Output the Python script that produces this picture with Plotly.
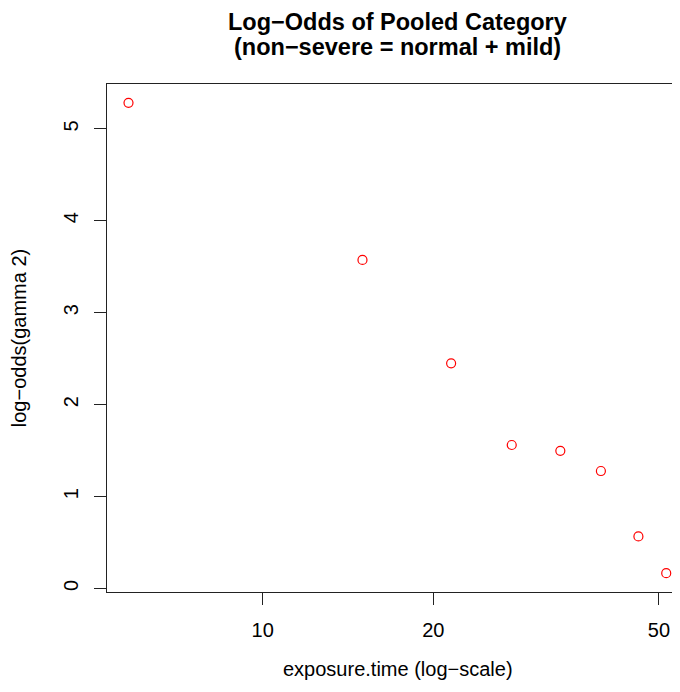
import numpy as np
import plotly.graph_objects as go

exposure_time = [5.8, 15, 21.5, 27.5, 33.5, 39.5, 46, 51.5]
log_odds = [5.283, 3.574, 2.449, 1.561, 1.498, 1.278, 0.566, 0.167]
x_ticks = [10, 20, 50]
y_ticks = [0, 1, 2, 3, 4, 5]
title_lines = ["Log−Odds of Pooled Category", "(non−severe = normal + mild)"]
x_label = "exposure.time (log−scale)"
y_label = "log−odds(gamma 2)"

FONT = "Liberation Sans, Arial, Helvetica, sans-serif"

# The page body has an 8px margin; the figure is sized so the page does not
# overflow the 680x692 window (figure coords = screen coords - 8).
W, H = 664, 676
L, T, B_FIG = 99, 76, 584
CENTER_X = 389.5  # horizontal centre of the (R) plot region, figure px

fig = go.Figure(go.Scatter(
    x=exposure_time, y=log_odds, mode="markers",
    marker=dict(symbol="circle-open", size=9, color="red", line=dict(width=1.2, color="red")),
    showlegend=False,
))

plot_h = B_FIG - T
plot_w = W - L
def py(fig_y):
    return (B_FIG - fig_y) / plot_h
def px(fig_x):
    return (fig_x - L) / plot_w

annotations = []
for line, yc in zip(title_lines, [14, 39]):
    annotations.append(dict(
        text="<b>%s</b>" % line, xref="paper", yref="paper",
        x=px(CENTER_X), y=py(yc),
        xanchor="center", yanchor="middle", showarrow=False,
        font=dict(family=FONT, size=23.5, color="black"),
    ))
annotations.append(dict(
    text=x_label, xref="paper", yref="paper",
    x=px(CENTER_X), y=py(661),
    xanchor="center", yanchor="middle", showarrow=False,
    font=dict(family=FONT, size=20, color="black"),
))

fig.update_layout(
    template="none",
    width=W, height=H,
    margin=dict(l=L, r=0, t=T, b=H - B_FIG, autoexpand=False),
    paper_bgcolor="white", plot_bgcolor="white",
    font=dict(family=FONT, size=20, color="black"),
    annotations=annotations,
    xaxis=dict(
        type="log", range=[0.7255, 1.7220], automargin=False,
        tickvals=x_ticks, ticktext=[str(v) for v in x_ticks],
        ticks="outside", ticklen=12, tickcolor="#222", tickwidth=1,
        ticklabelstandoff=8,
        showline=True, linecolor="#222", linewidth=1, mirror=True,
        showgrid=False, zeroline=False,
    ),
    yaxis=dict(
        range=[-0.038, 5.488], automargin=False,
        tickvals=y_ticks, ticktext=[str(v) for v in y_ticks],
        tickangle=-90,
        ticks="outside", ticklen=12, tickcolor="#222", tickwidth=1,
        ticklabelstandoff=8,
        showline=True, linecolor="#222", linewidth=1, mirror=False,
        showgrid=False, zeroline=False,
        title=dict(text=y_label, standoff=28,
                   font=dict(family=FONT, size=20)),
    ),
)

fig.write_html("out.html")
